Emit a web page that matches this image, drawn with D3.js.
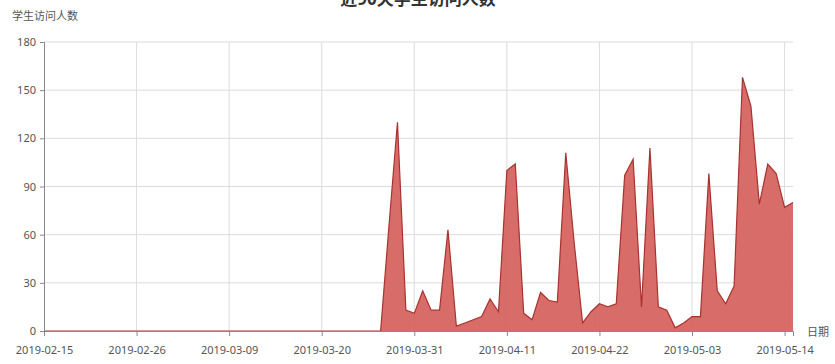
<!DOCTYPE html>
<html lang="zh">
<head>
<meta charset="utf-8">
<title>近90天学生访问人数</title>
<script src="https://d3js.org/d3.v7.min.js"></script>
<style>
  body { margin: 0; background: #fff; }
  text { font-family: "Noto Sans", "Noto Sans CJK SC", sans-serif; }
</style>
</head>
<body>
<script>
// data
var startDate = "2019-02-15";
var visits = [
  0,0,0,0,0,0,0,0,0,0,
  0,0,0,0,0,0,0,0,0,0,
  0,0,0,0,0,0,0,0,0,0,
  0,0,0,0,0,0,0,0,0,0,
  0,66,130,13,11,25,13,13,63,3,
  5,7,9,20,12,100,104,11,7,24,
  19,18,111,55,5,12,17,15,17,97,
  107,15,114,15,13,2,5,9,9,98,
  25,17,28,158,140,79,104,98,77,80
];
var tickLabels = ["2019-02-15","2019-02-26","2019-03-09","2019-03-20","2019-03-31",
                  "2019-04-11","2019-04-22","2019-05-03","2019-05-14"];
var yTicks = [0,30,60,90,120,150,180];
var titleText = "近90天学生访问人数";
var yName = "学生访问人数";
var xName = "日期";

var width = 835, height = 364;
var margin = {top:42, left:44, bottom:33, right:42};

var parse = d3.timeParse("%Y-%m-%d");
var t0 = parse(startDate);
var dataset = visits.map(function(v, i){ return {date: d3.timeDay.offset(t0, i), value: v}; });

var svg = d3.select("body").append("svg")
  .attr("width", width).attr("height", height);

var x = d3.scaleTime()
  .domain([t0, dataset[dataset.length-1].date])
  .range([margin.left, width - margin.right]);
var y = d3.scaleLinear().domain([0,180]).range([height - margin.bottom, margin.top]);

var tickDates = tickLabels.map(parse);

// grid
svg.append("g").selectAll("line").data(yTicks.slice(1)).enter().append("line")
  .attr("x1", margin.left).attr("x2", width - margin.right)
  .attr("y1", function(d){ return y(d); }).attr("y2", function(d){ return y(d); })
  .style("stroke", "#dcdcdc").style("stroke-width", 1);
svg.append("g").selectAll("line").data(tickDates.slice(1)).enter().append("line")
  .attr("x1", function(d){ return x(d); }).attr("x2", function(d){ return x(d); })
  .attr("y1", y(180)).attr("y2", y(0))
  .style("stroke", "#dcdcdc").style("stroke-width", 1);

// area
var area = d3.area()
  .x(function(d){ return x(d.date); })
  .y0(y(0))
  .y1(function(d){ return y(d.value); });
var line = d3.line()
  .x(function(d){ return x(d.date); })
  .y(function(d){ return y(d.value); });

svg.append("path").datum(dataset).attr("d", area)
  .style("fill", "#d4605b").style("fill-opacity", 0.92);
svg.append("path").datum(dataset).attr("d", line)
  .style("fill", "none").style("stroke", "#a8322f").style("stroke-width", 1.2);

// axes
var xAxis = d3.axisBottom(x).tickValues(tickDates).tickSize(5).tickPadding(10)
  .tickFormat(d3.timeFormat("%Y-%m-%d"));
var gx = svg.append("g").attr("transform", "translate(0," + y(0) + ")").call(xAxis);
gx.select(".domain").style("stroke", "#888");
gx.selectAll(".tick line").style("stroke", "#888");
gx.selectAll("text").style("fill", "#555").style("font-size", "11px");

var yAxis = d3.axisLeft(y).tickValues(yTicks).tickSize(4).tickPadding(4);
var gy = svg.append("g").attr("transform", "translate(" + margin.left + ",0)").call(yAxis);
gy.select(".domain").style("stroke", "#888");
gy.selectAll(".tick line").style("stroke", "#888");
gy.selectAll("text").style("fill", "#555").style("font-size", "11px");

// names and title
svg.append("text").attr("x", 12).attr("y", 20).text(yName)
  .style("font-size", "11px").style("fill", "#555");
svg.append("text").attr("x", 807).attr("y", 336).text(xName)
  .style("font-size", "11px").style("fill", "#555");
svg.append("text").attr("x", 418).attr("y", 5).attr("text-anchor", "middle").text(titleText)
  .style("font-size", "17px").style("font-weight", "bold").style("fill", "#333");
</script>
</body>
</html>
